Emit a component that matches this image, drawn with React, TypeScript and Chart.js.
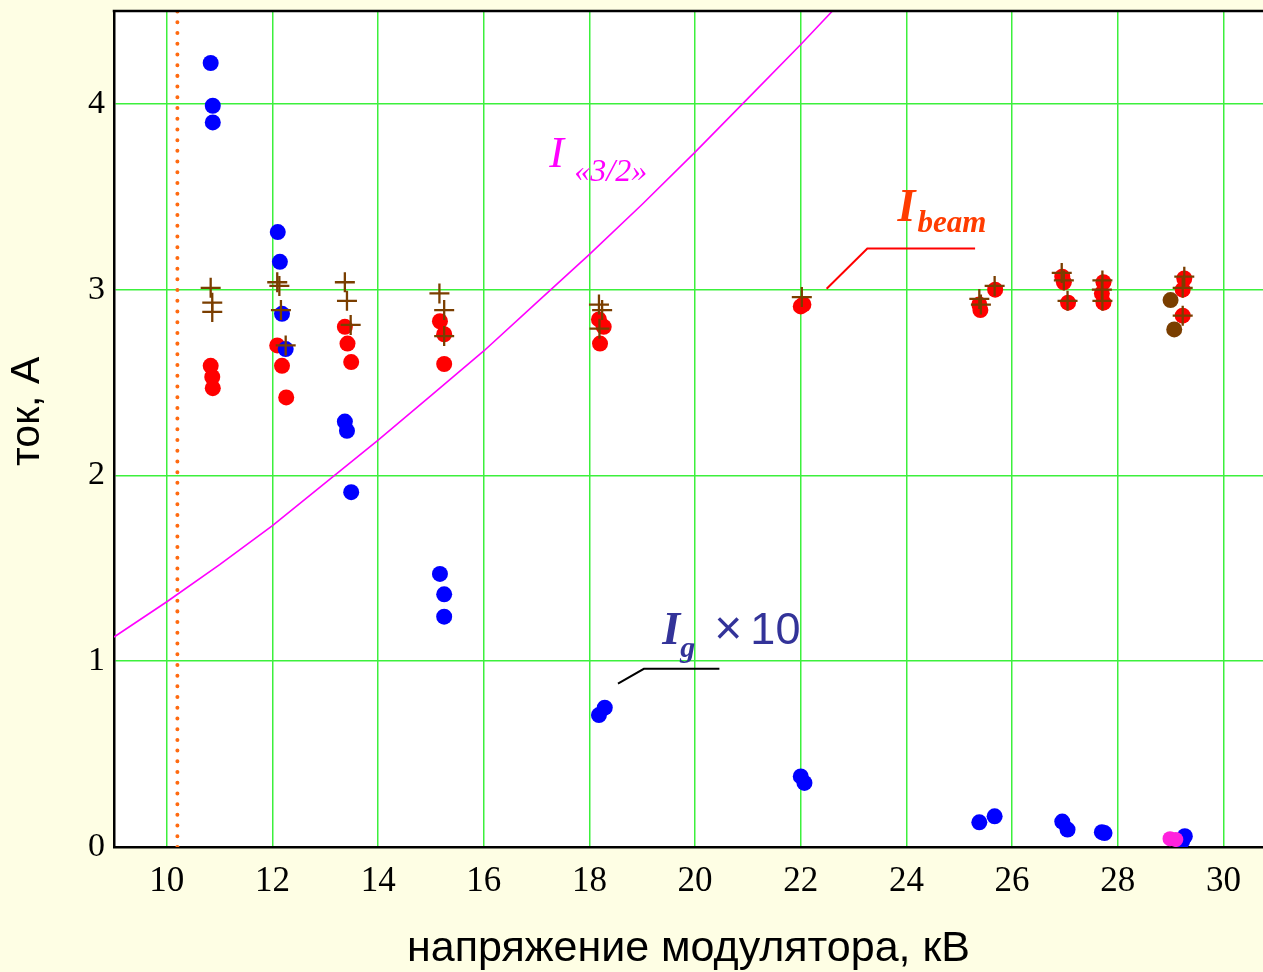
import { useEffect, useRef } from 'react';
import { Chart, registerables } from 'chart.js';

Chart.register(...registerables);

// ---- axes ----
const xTickValues = [10, 12, 14, 16, 18, 20, 22, 24, 26, 28, 30];
const yTickValues = [0, 1, 2, 3, 4];

// ---- I «3/2» curve ----
const curveX = [9, 10, 11, 12, 13, 14, 15, 16, 17, 18, 19, 20, 21, 22, 22.6];
const curveY = [1.13, 1.32, 1.52, 1.73, 1.96, 2.19, 2.43, 2.67, 2.93, 3.19, 3.46, 3.74, 4.03, 4.32, 4.5];

// ---- vertical dotted threshold ----
const cutoffX = 10.2;

// ---- Ig x10 (blue) ----
const igX = [10.83, 10.87, 10.87, 12.10, 12.14, 12.18, 12.25, 13.37, 13.41, 13.49, 15.17, 15.25, 15.25, 18.18, 18.29, 22.00, 22.07, 25.38, 25.67, 26.95, 27.05, 27.70, 27.75, 29.27, 29.22];
const igY = [4.22, 3.99, 3.90, 3.31, 3.15, 2.87, 2.68, 2.29, 2.24, 1.91, 1.47, 1.36, 1.24, 0.71, 0.75, 0.38, 0.345, 0.133, 0.165, 0.137, 0.094, 0.08, 0.075, 0.058, 0.031];

// ---- I beam (red circles) ----
const beamX = [10.83, 10.86, 10.87, 12.09, 12.18, 12.26, 13.37, 13.42, 13.49, 15.17, 15.25, 15.25, 18.18, 18.27, 18.20, 22.00, 22.05, 25.38, 25.40, 25.68, 26.95, 26.98, 27.06, 27.73, 27.70, 27.73, 29.26, 29.23, 29.23];
const beamY = [2.59, 2.53, 2.47, 2.70, 2.59, 2.42, 2.80, 2.71, 2.61, 2.83, 2.76, 2.60, 2.84, 2.80, 2.71, 2.91, 2.92, 2.92, 2.89, 3.00, 3.07, 3.04, 2.93, 3.04, 2.98, 2.93, 3.06, 3.00, 2.86];

// ---- brown circles ----
const brownX = [29.00, 29.07];
const brownY = [2.944, 2.786];

// ---- brown crosses ----
const plusX = [10.83, 10.86, 10.86, 12.09, 12.13, 12.16, 12.25, 13.37, 13.41, 13.48, 15.16, 15.25, 15.25, 18.18, 18.24, 18.19, 22.02, 25.38, 25.41, 25.67, 26.94, 26.98, 27.05, 27.71, 27.70, 27.71, 29.26, 29.23, 29.23];
const plusY = [3.01, 2.93, 2.88, 3.04, 3.02, 2.89, 2.70, 3.04, 2.94, 2.81, 2.98, 2.89, 2.75, 2.92, 2.89, 2.79, 2.96, 2.95, 2.92, 3.02, 3.09, 3.05, 2.94, 3.05, 3.00, 2.94, 3.07, 3.01, 2.86];

// ---- pink points ----
const pinkX = [28.99, 29.10];
const pinkY = [0.045, 0.04];

// ---- label leader lines ----
const beamLeaderX = [22.49, 23.26, 25.30];
const beamLeaderY = [3.005, 3.221, 3.221];
const igLeaderX = [18.54, 19.03, 20.46];
const igLeaderY = [0.880, 0.959, 0.959];

// ---- label anchors (data units) ----
const curveLabelAt = { x: 17.24, y: 3.659 };
const beamLabelAt = { x: 23.83, y: 3.368 };
const igLabelAt = { x: 19.38, y: 1.095 };
const yTitleAt = { y: 2.345 };

const yTitle = 'ток, А';
const xTitle = 'напряжение модулятора, кВ';

const toXY = (xs: number[], ys: number[]) => xs.map((x, i) => ({ x, y: ys[i] }));

const SERIF = '"Liberation Serif", "Times New Roman", serif';
const SANS = '"Liberation Sans", Arial, sans-serif';

export default function App() {
  const ref = useRef<HTMLCanvasElement>(null);

  useEffect(() => {
    document.body.style.margin = '0';
    document.body.style.overflow = 'hidden';

    const framePlugin = {
      id: 'frame',
      beforeDraw(chart: any) {
        const { ctx, chartArea: a, width, height } = chart;
        ctx.save();
        ctx.fillStyle = '#fefee4';
        ctx.fillRect(0, 0, width, height);
        ctx.fillStyle = '#ffffff';
        ctx.fillRect(a.left, a.top, a.right - a.left, a.bottom - a.top);
        ctx.restore();
      },
      afterDraw(chart: any) {
        const { ctx, chartArea: a, scales } = chart;
        ctx.save();
        ctx.strokeStyle = '#000';
        ctx.lineWidth = 2.5;
        ctx.beginPath();
        ctx.moveTo(a.left - 1.25, a.top);
        ctx.lineTo(a.right, a.top);
        ctx.stroke();

        const px = (v: number) => scales.x.getPixelForValue(v);
        const py = (v: number) => scales.y.getPixelForValue(v);

        // y axis title
        ctx.save();
        ctx.translate(28, py(yTitleAt.y));
        ctx.rotate(-Math.PI / 2);
        ctx.textAlign = 'center';
        ctx.textBaseline = 'middle';
        ctx.fillStyle = '#000';
        ctx.font = `41px ${SANS}`;
        ctx.fillText(yTitle, 0, 0);
        ctx.restore();

        ctx.textAlign = 'left';
        ctx.textBaseline = 'alphabetic';

        // I «3/2»
        let x0 = px(curveLabelAt.x), y0 = py(curveLabelAt.y);
        ctx.fillStyle = '#ff00ff';
        ctx.font = `italic 44px ${SERIF}`;
        ctx.fillText('I', x0, y0);
        ctx.font = `italic 32px ${SERIF}`;
        ctx.fillText('«3/2»', x0 + 25, y0 + 14);

        // I beam
        x0 = px(beamLabelAt.x); y0 = py(beamLabelAt.y);
        ctx.fillStyle = '#ff3c00';
        ctx.font = `bold italic 46px ${SERIF}`;
        ctx.fillText('I', x0, y0);
        ctx.font = `bold italic 31px ${SERIF}`;
        ctx.fillText('beam', x0 + 20, y0 + 11);

        // Ig x10
        x0 = px(igLabelAt.x); y0 = py(igLabelAt.y);
        ctx.fillStyle = '#333399';
        ctx.font = `bold italic 46px ${SERIF}`;
        ctx.fillText('I', x0, y0);
        ctx.font = `bold italic 30px ${SERIF}`;
        ctx.fillText('g', x0 + 18, y0 + 13);
        ctx.font = `48px ${SANS}`;
        ctx.fillText('×', x0 + 52, y0);
        ctx.font = `45px ${SANS}`;
        ctx.fillText('10', x0 + 88, y0);
        ctx.restore();
      },
    };

    const circle = (data: any, color: string, r: number) => ({
      type: 'scatter' as const,
      data,
      showLine: false,
      pointStyle: 'circle',
      pointRadius: r,
      pointBorderWidth: 0,
      pointBackgroundColor: color,
      pointBorderColor: color,
      pointHoverRadius: r,
    });

    const chart = new Chart(ref.current as HTMLCanvasElement, {
      type: 'scatter',
      data: {
        datasets: [
          circle(toXY(pinkX, pinkY), '#ff22dd', 7.5) as any,
          {
            type: 'scatter',
            data: toXY(plusX, plusY),
            showLine: false,
            pointStyle: 'cross',
            pointRadius: 10,
            pointBorderWidth: 2.3,
            pointBorderColor: '#7a3e00',
            pointBackgroundColor: '#7a3e00',
          } as any,
          circle(toXY(brownX, brownY), '#7a3e00', 8) as any,
          circle(toXY(igX, igY), '#0000ff', 8) as any,
          circle(toXY(beamX, beamY), '#ff0000', 8) as any,
          {
            type: 'line',
            data: toXY(beamLeaderX, beamLeaderY),
            borderColor: '#ff0000',
            borderWidth: 2,
            pointRadius: 0,
            tension: 0,
          } as any,
          {
            type: 'line',
            data: toXY(igLeaderX, igLeaderY),
            borderColor: '#000000',
            borderWidth: 2,
            pointRadius: 0,
            tension: 0,
          } as any,
          {
            type: 'line',
            data: [{ x: cutoffX, y: 0 }, { x: cutoffX, y: 4.5 }],
            borderColor: '#ff6a10',
            borderWidth: 4,
            borderDash: [0.01, 10.7],
            borderCapStyle: 'round',
            pointRadius: 0,
          } as any,
          {
            type: 'line',
            data: toXY(curveX, curveY),
            borderColor: '#ff00ff',
            borderWidth: 1.6,
            pointRadius: 0,
            tension: 0,
          } as any,
        ],
      },
      options: {
        animation: false,
        responsive: true,
        maintainAspectRatio: false,
        layout: { autoPadding: false, padding: { top: 11, left: 0, right: 0, bottom: 0 } },
        plugins: { legend: { display: false }, tooltip: { enabled: false } },
        scales: {
          x: {
            type: 'linear',
            min: 9,
            max: 30.75,
            afterBuildTicks: (s: any) => { s.ticks = xTickValues.map((v) => ({ value: v })); },
            afterFit: (s: any) => { s.height = 125; s.paddingLeft = 0; s.paddingRight = 0; },
            grid: { color: '#3cf03c', lineWidth: 1.5, drawTicks: false },
            border: { color: '#000', width: 2.5 },
            ticks: {
              font: { family: SERIF, size: 35 },
              color: '#000',
              padding: 14,
              maxRotation: 0,
              autoSkip: false,
            },
            title: {
              display: true,
              text: xTitle,
              font: { family: SANS, size: 43 },
              color: '#000',
              padding: { top: 0, bottom: -3 },
            },
          },
          y: {
            type: 'linear',
            min: 0,
            max: 4.5,
            afterBuildTicks: (s: any) => { s.ticks = yTickValues.map((v) => ({ value: v })); },
            afterFit: (s: any) => { s.width = 114; s.paddingTop = 0; s.paddingBottom = 0; },
            grid: { color: '#3cf03c', lineWidth: 1.5, drawTicks: false },
            border: { color: '#000', width: 2.5 },
            ticks: {
              font: { family: SERIF, size: 34 },
              color: '#000',
              padding: 9,
            },
            title: { display: false },
          },
        },
      } as any,
      plugins: [framePlugin],
    });

    return () => chart.destroy();
  }, []);

  return (
    <div style={{ width: 1263, height: 972, position: 'relative' }}>
      <canvas ref={ref} />
    </div>
  );
}
